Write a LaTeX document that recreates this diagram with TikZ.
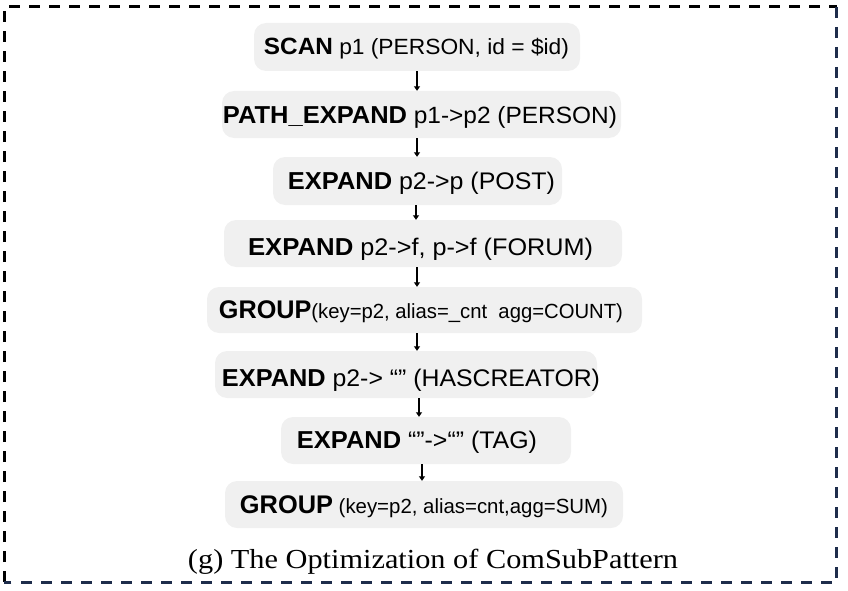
\documentclass[tikz,border=0pt]{standalone}
\usepackage{fontspec}
\setmainfont{Liberation Serif}
\newfontfamily\opsans{Liberation Sans}
\usetikzlibrary{arrows.meta}
\definecolor{boxgray}{RGB}{240,240,240}
\definecolor{framenavy}{RGB}{30,45,75}
\newcommand{\opline}[5]{\resizebox{#5pt}{\height}{\opsans\fontsize{#3}{#3}\selectfont\textbf{#1}\fontsize{#4}{#4}\selectfont#2}}
\tikzset{
  opbox/.style={fill=boxgray, rounded corners=12pt, inner sep=0pt, draw=none},
  optext/.style={anchor=base, inner sep=0pt},
  oparrow/.style={line width=1.4pt, -{Triangle[length=4.5pt,width=6pt]}},
  framedash/.style={line width=3pt, dash pattern=on 11pt off 9pt}
}
\begin{document}
\begin{tikzpicture}[x=1pt,y=-1pt]
\useasboundingbox (0,0) rectangle (848,591);
% frame
\draw[framedash, black] (4,582) -- (4,7) -- (836.5,7);
\draw[framedash, framenavy] (836.5,7) -- (836.5,582) -- (4,582);
% boxes
\node[opbox, minimum width=326pt, minimum height=48pt] (s1) at (417,47) {};
\node[opbox, minimum width=399pt, minimum height=47pt] (s2) at (421.5,114.5) {};
\node[opbox, minimum width=289pt, minimum height=48pt] (s3) at (417.5,181) {};
\node[opbox, minimum width=398pt, minimum height=47pt] (s4) at (423,243.5) {};
\node[opbox, minimum width=435pt, minimum height=46pt] (s5) at (424.5,310) {};
\node[opbox, minimum width=382pt, minimum height=47pt] (s6) at (406,374.5) {};
\node[opbox, minimum width=290pt, minimum height=47pt] (s7) at (426,440.5) {};
\node[opbox, minimum width=398pt, minimum height=47pt] (s8) at (424,504.5) {};
% texts
\node[optext] (t1) at (416.5,55) {\opline{SCAN}{\ p1 (PERSON, id = \$id)}{23.5}{22}{305}};
\node[optext] (t2) at (420,123) {\opline{PATH\_EXPAND}{\ p1->p2 (PERSON)}{24.5}{23.5}{394}};
\node[optext] (t3) at (421.5,189) {\opline{EXPAND}{\ p2->p (POST)}{24.5}{24}{267}};
\node[optext] (t4) at (420.5,255) {\opline{EXPAND}{\ p2->f, p->f (FORUM)}{24.5}{24}{345}};
\node[optext] (t5) at (421,318) {\opline{GROUP}{(key=p2, alias=\_cnt\ \ agg=COUNT)}{25.5}{20.5}{404}};
\node[optext] (t6) at (411,386.5) {\opline{EXPAND}{\ p2-> “” (HASCREATOR)}{24.5}{24}{378}};
\node[optext] (t7) at (417,448.3) {\opline{EXPAND}{\ “”->“” (TAG)}{24.5}{24}{240}};
\node[optext] (t8) at (424,513) {\opline{GROUP}{\ (key=p2, alias=cnt,agg=SUM)}{25.5}{20.5}{368}};
% caption
\node[optext] (cap) at (433,568) {\resizebox{490pt}{\height}{\fontsize{27.5}{27.5}\selectfont (g) The Optimization of ComSubPattern}};
% arrow columns
\coordinate (c1) at (417,0);
\coordinate (c2) at (417,0);
\coordinate (c3) at (416,0);
\coordinate (c4) at (417,0);
\coordinate (c5) at (417,0);
\coordinate (c6) at (419,0);
\coordinate (c7) at (422,0);
\draw[oparrow] (s1.south -| c1) -- (s2.north -| c1);
\draw[oparrow] (s2.south -| c2) -- (s3.north -| c2);
\draw[oparrow] (s3.south -| c3) -- (s4.north -| c3);
\draw[oparrow] (s4.south -| c4) -- (s5.north -| c4);
\draw[oparrow] (s5.south -| c5) -- (s6.north -| c5);
\draw[oparrow] (s6.south -| c6) -- (s7.north -| c6);
\draw[oparrow] (s7.south -| c7) -- (s8.north -| c7);
\end{tikzpicture}
\end{document}
